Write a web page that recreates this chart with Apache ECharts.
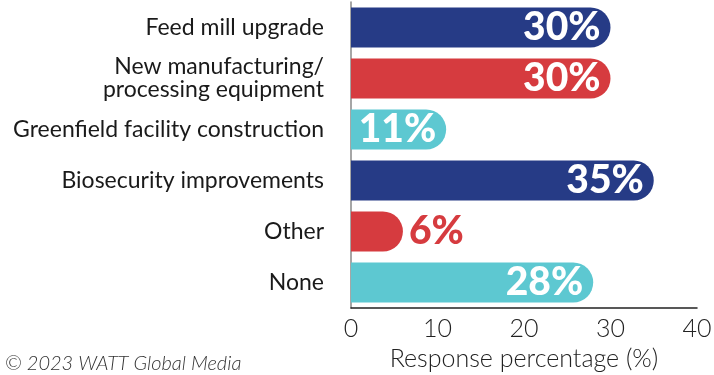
<!DOCTYPE html>
<html>
<head>
<meta charset="utf-8">
<script src="https://cdn.jsdelivr.net/npm/echarts@6/dist/echarts.min.js"></script>
<style>
  html, body { margin: 0; padding: 0; background: #fff; }
  #chart { width: 714px; height: 375px; }
</style>
</head>
<body>
<div id="chart"></div>
<script>
// Survey categories, top to bottom
const categories = [
  'Feed mill upgrade',
  'New manufacturing/\nprocessing equipment',
  'Greenfield facility construction',
  'Biosecurity improvements',
  'Other',
  'None'
];
// Share of respondents (%)
const values = [30, 30, 11, 35, 6, 28];
const barColors = ['#263b86', '#d63b3f', '#5dc8d1', '#263b86', '#d63b3f', '#5dc8d1'];
const xTicks = [0, 10, 20, 30, 40];

const FONT = 'Lato, "Noto Sans", sans-serif';

const data = values.map((v, i) => {
  const short = v < 8;
  return {
    value: v,
    itemStyle: { color: barColors[i] },
    label: short
      ? { position: 'right', distance: 6, color: barColors[i] }
      : { position: 'insideRight', distance: 10, color: '#fff' }
  };
});

const chart = echarts.init(document.getElementById('chart'), null, { renderer: 'canvas' });
chart.setOption({
  animation: false,
  title: {
    text: '© 2023 WATT Global Media',
    left: 0,
    top: 349,
    textStyle: { fontFamily: FONT, fontSize: 20, fontStyle: 'italic', fontWeight: 300, color: '#333' }
  },
  grid: { left: 351, width: 346, top: 2, height: 306, containLabel: false, outerBoundsMode: 'none' },
  xAxis: {
    type: 'value',
    min: xTicks[0],
    max: xTicks[xTicks.length - 1],
    interval: 10,
    name: 'Response percentage (%)',
    nameLocation: 'middle',
    nameGap: 38,
    nameTextStyle: { fontFamily: FONT, fontSize: 25, fontWeight: 300, color: '#222' },
    axisLine: { show: true, lineStyle: { color: '#222', width: 1.5 } },
    axisTick: { show: false },
    splitLine: { show: false },
    axisLabel: { fontFamily: FONT, fontSize: 25, fontWeight: 300, color: '#222', margin: 8 }
  },
  yAxis: {
    type: 'category',
    data: categories,
    inverse: true,
    axisLine: { show: true, lineStyle: { color: '#888', width: 1.5 } },
    axisTick: { show: false },
    axisLabel: { fontFamily: FONT, fontSize: 23, color: '#1a1a1a', margin: 27, lineHeight: 23, align: 'right' }
  },
  series: [{
    type: 'bar',
    data: data,
    barWidth: 40,
    itemStyle: { borderRadius: [0, 20, 20, 0] },
    label: {
      show: true,
      formatter: '{c}%',
      fontFamily: FONT,
      fontSize: 39,
      fontWeight: 900
    }
  }]
});
</script>
</body>
</html>
